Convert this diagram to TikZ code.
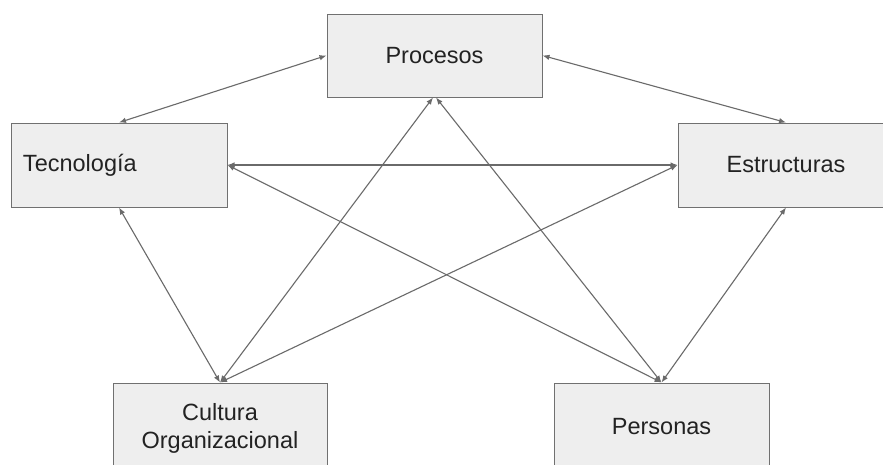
\documentclass[tikz,border=0pt]{standalone}
\usepackage{fontspec}
\setmainfont{Liberation Sans}
\usetikzlibrary{arrows.meta}
\definecolor{boxfill}{HTML}{EEEEEE}
\definecolor{boxline}{HTML}{707070}
\definecolor{conncol}{HTML}{6A6A6A}
\definecolor{txtcol}{HTML}{222222}
\begin{document}
\begin{tikzpicture}[x=1pt,y=-1pt,
  box/.style={draw=boxline, fill=boxfill, line width=1pt, text=txtcol,
    font=\fontsize{23.5}{28}\selectfont, align=center, inner sep=0pt},
  conn/.style={draw=conncol, line width=1.1pt,
    arrows={Latex[length=7pt,width=5.5pt]-Latex[length=7pt,width=5.5pt]}}]
\clip (0,0) rectangle (883,464);
\fill[white] (0,0) rectangle (883,464);
\node[box, minimum width=215pt, minimum height=83pt] (proc) at (434.5,55.5) {Procesos};
\node[box, text width=192pt, inner xsep=12pt, align=left, minimum height=84pt] (tec) at (119,165) {Tecnología};
\node[box, minimum width=216pt, minimum height=84pt] (est) at (786,165) {Estructuras};
\node[box, minimum width=214pt, minimum height=90pt] (cul) at (220,428) {Cultura\\Organizacional};
\node[box, minimum width=215pt, minimum height=88pt] (per) at (661.5,427) {Personas};
\draw[conn] (tec.north) -- (proc.west);
\draw[conn] (proc.east) -- (est.north);
\draw[conn] (tec.east) -- (est.west);
\draw[conn] (tec.east) -- (per.north);
\draw[conn] (tec.south) -- (cul.north);
\draw[conn] ([xshift=-1.5pt]proc.south) -- (cul.north);
\draw[conn] ([xshift=1.5pt]proc.south) -- (per.north);
\draw[conn] (est.west) -- (cul.north);
\draw[conn] (est.south) -- (per.north);
\end{tikzpicture}
\end{document}
